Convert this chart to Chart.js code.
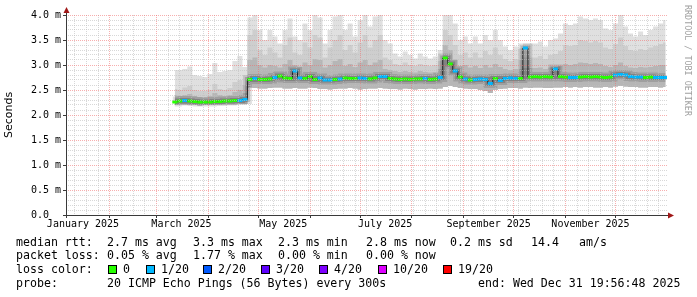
<!DOCTYPE html>
<html>
<head>
<meta charset="utf-8">
<script src="https://cdn.jsdelivr.net/npm/chart.js@4.4.1/dist/chart.umd.min.js"></script>
<style>
  body { margin: 0; background: #fff; }
  #wrap { position: relative; width: 697px; height: 297px; overflow: hidden; font-family: "DejaVu Sans Mono", monospace; }
  #chart { position: absolute; left: 0; top: 0; }
  .row { position: absolute; left: 0; width: 697px; height: 14px; line-height: 14px; font-size: 11.6px; white-space: pre; color: #000; }
  .row span { position: absolute; top: 0; }
  .row i { position: absolute; top: 3px; width: 7px; height: 7px; border: 1px solid #000; }
  #credit { position: absolute; left: 683px; top: 5px; writing-mode: vertical-rl; font-size: 8.4px; line-height: 10px; color: #a0a0a0; white-space: pre; }
</style>
</head>
<body>
<div id="wrap">
  <canvas id="chart" width="697" height="297"></canvas>
  <div id="credit">RRDTOOL / TOBI OETIKER</div>
  <div class="row" style="top:235px">
    <span style="left:16px">median rtt:</span><span style="left:107px">2.7 ms avg</span><span style="left:193px">3.3 ms max</span><span style="left:278px">2.3 ms min</span><span style="left:366px">2.8 ms now</span><span style="left:450px">0.2 ms sd</span><span style="left:531px">14.4</span><span style="left:579px">am/s</span>
  </div>
  <div class="row" style="top:248px">
    <span style="left:16px">packet loss:</span><span style="left:107px">0.05 % avg</span><span style="left:193px">1.77 % max</span><span style="left:278px">0.00 % min</span><span style="left:366px">0.00 % now</span>
  </div>
  <div class="row" id="lossRow" style="top:262px">
    <span style="left:16px">loss color:</span>
  </div>
  <div class="row" style="top:276px">
    <span style="left:16px">probe:</span><span style="left:107px">20 ICMP Echo Pings (56 Bytes) every 300s</span><span style="left:478px">end: Wed Dec 31 19:56:48 2025</span>
  </div>
</div>
<script>
// day of year 2025 (0 = Jan 1), one sample every 3 days
const days = [
  70, 73, 76, 79, 82, 85, 88, 91, 94, 97,
  100, 103, 106, 109, 112, 115, 118, 121, 124, 127,
  130, 133, 136, 139, 142, 145, 148, 151, 154, 157,
  160, 163, 166, 169, 172, 175, 178, 181, 184, 187,
  190, 193, 196, 199, 202, 205, 208, 211, 214, 217,
  220, 223, 226, 229, 232, 235, 238, 241, 244, 247,
  250, 253, 256, 259, 262, 265, 268, 271, 274, 277,
  280, 283, 286, 289, 292, 295, 298, 301, 304, 307,
  310, 313, 316, 319, 322, 325, 328, 331, 334, 337,
  340, 343, 346, 349, 352, 355, 358, 361, 364
];

// median rtt in ms
const median = [
  2.26, 2.28, 2.29, 2.28, 2.27, 2.26, 2.26, 2.26, 2.27, 2.27,
  2.28, 2.28, 2.29, 2.29, 2.31, 2.71, 2.73, 2.71, 2.71, 2.72,
  2.75, 2.78, 2.74, 2.73, 2.88, 2.74, 2.73, 2.77, 2.71, 2.74,
  2.70, 2.70, 2.71, 2.72, 2.74, 2.73, 2.73, 2.74, 2.73, 2.72,
  2.74, 2.77, 2.77, 2.73, 2.72, 2.71, 2.72, 2.71, 2.72, 2.72,
  2.73, 2.71, 2.72, 2.75, 3.14, 3.02, 2.88, 2.76, 2.72, 2.70,
  2.71, 2.72, 2.71, 2.63, 2.73, 2.69, 2.73, 2.74, 2.73, 2.73,
  3.34, 2.76, 2.77, 2.76, 2.77, 2.76, 2.92, 2.77, 2.76, 2.75,
  2.75, 2.76, 2.77, 2.76, 2.77, 2.76, 2.75, 2.76, 2.80, 2.81,
  2.80, 2.77, 2.76, 2.76, 2.75, 2.76, 2.75, 2.75, 2.75
];

// lost pings out of 20
const loss = [
  0, 0, 1, 0, 0, 0, 0, 0, 0, 0,
  0, 0, 0, 1, 1, 0, 1, 0, 0, 0,
  1, 0, 0, 0, 1, 1, 0, 0, 0, 1,
  1, 1, 0, 1, 0, 0, 0, 1, 1, 0,
  0, 1, 1, 0, 0, 0, 0, 0, 0, 0,
  1, 0, 0, 1, 0, 0, 1, 0, 1, 0,
  1, 1, 1, 1, 0, 1, 1, 1, 1, 0,
  1, 0, 0, 0, 0, 0, 1, 0, 0, 1,
  1, 0, 0, 0, 0, 0, 0, 0, 1, 1,
  1, 1, 1, 1, 0, 0, 1, 1, 1
];

// smoke: slowest ping, upper quantiles, fastest ping (ms)
const smokeMax = [
  2.90, 2.90, 2.92, 2.97, 2.80, 2.78, 2.76, 2.82, 3.04, 2.86,
  2.88, 2.90, 3.08, 3.18, 2.96, 3.95, 4.00, 3.70, 3.50, 3.70,
  3.57, 3.43, 3.70, 3.93, 3.57, 3.50, 3.83, 3.70, 4.00, 3.95,
  3.43, 3.70, 3.97, 4.00, 3.70, 3.83, 3.57, 3.90, 4.00, 3.77,
  3.97, 4.00, 3.50, 3.43, 3.23, 3.17, 3.27, 3.20, 3.13, 3.23,
  3.17, 3.13, 3.17, 3.30, 4.00, 4.00, 3.83, 3.50, 3.57, 3.43,
  3.57, 3.43, 3.60, 3.50, 3.70, 3.50, 3.37, 3.30, 3.37, 3.33,
  3.43, 3.43, 3.43, 3.47, 3.37, 3.50, 3.53, 3.63, 3.83, 3.80,
  3.83, 3.97, 3.93, 3.90, 3.93, 3.90, 3.73, 3.70, 3.83, 4.00,
  3.77, 3.63, 3.57, 3.67, 3.60, 3.70, 3.77, 3.83, 3.90
];
const smokeHi = [
  2.52, 2.50, 2.55, 2.58, 2.50, 2.48, 2.48, 2.50, 2.62, 2.52,
  2.50, 2.54, 2.66, 2.70, 2.60, 3.60, 3.70, 3.30, 3.20, 3.35,
  3.25, 3.15, 3.40, 3.55, 3.25, 3.20, 3.45, 3.35, 3.60, 3.55,
  3.15, 3.35, 3.50, 3.60, 3.30, 3.40, 3.25, 3.45, 3.60, 3.35,
  3.50, 3.60, 3.15, 3.10, 3.02, 3.00, 3.05, 3.00, 2.98, 3.02,
  3.00, 2.98, 3.00, 3.08, 3.70, 3.60, 3.40, 3.20, 3.25, 3.15,
  3.25, 3.15, 3.28, 3.20, 3.35, 3.20, 3.12, 3.08, 3.12, 3.10,
  3.15, 3.15, 3.15, 3.18, 3.12, 3.20, 3.22, 3.28, 3.40, 3.38,
  3.40, 3.50, 3.48, 3.45, 3.48, 3.45, 3.35, 3.32, 3.42, 3.55,
  3.38, 3.30, 3.28, 3.32, 3.30, 3.35, 3.38, 3.42, 3.45
];
const smokeMid = [
  2.40, 2.38, 2.40, 2.42, 2.38, 2.36, 2.36, 2.38, 2.44, 2.40,
  2.38, 2.40, 2.46, 2.50, 2.44, 3.10, 3.15, 3.00, 2.95, 3.00,
  2.98, 2.95, 3.02, 3.10, 3.00, 2.96, 3.05, 3.00, 3.12, 3.10,
  2.95, 3.00, 3.08, 3.12, 2.98, 3.02, 2.96, 3.05, 3.10, 3.00,
  3.05, 3.10, 2.92, 2.90, 2.88, 2.86, 2.88, 2.86, 2.85, 2.88,
  2.86, 2.85, 2.86, 2.92, 3.40, 3.30, 3.10, 2.98, 3.00, 2.95,
  2.98, 2.94, 3.00, 2.95, 3.02, 2.96, 2.92, 2.90, 2.92, 2.92,
  2.94, 2.94, 2.94, 2.95, 2.92, 2.95, 2.96, 2.98, 3.02, 3.00,
  3.02, 3.05, 3.04, 3.02, 3.04, 3.02, 2.98, 2.96, 3.00, 3.05,
  2.98, 2.95, 2.94, 2.96, 2.95, 2.96, 2.98, 3.00, 3.00
];
const smokeMin = [
  2.20, 2.21, 2.21, 2.20, 2.20, 2.19, 2.20, 2.20, 2.20, 2.20,
  2.21, 2.21, 2.21, 2.22, 2.22, 2.55, 2.54, 2.53, 2.53, 2.54,
  2.55, 2.55, 2.53, 2.53, 2.54, 2.53, 2.53, 2.55, 2.54, 2.52,
  2.52, 2.51, 2.52, 2.53, 2.53, 2.54, 2.53, 2.51, 2.52, 2.53,
  2.53, 2.54, 2.53, 2.52, 2.52, 2.51, 2.53, 2.52, 2.51, 2.52,
  2.52, 2.53, 2.52, 2.53, 2.56, 2.58, 2.56, 2.54, 2.53, 2.52,
  2.52, 2.50, 2.48, 2.44, 2.50, 2.52, 2.53, 2.54, 2.54, 2.53,
  2.55, 2.54, 2.55, 2.55, 2.54, 2.54, 2.55, 2.55, 2.56, 2.55,
  2.56, 2.55, 2.56, 2.56, 2.55, 2.55, 2.56, 2.55, 2.57, 2.58,
  2.57, 2.56, 2.56, 2.55, 2.55, 2.56, 2.56, 2.55, 2.56
];

// axis ticks
const monthStarts = [31, 59, 90, 120, 151, 181, 212, 243, 273, 304, 334];
const xLabelDays = [15, 74, 135, 196, 258, 319];
const xLabels = ["January 2025", "March 2025", "May 2025", "July 2025", "September 2025", "November 2025"];
const yLabels = ["0.0", "0.5 m", "1.0 m", "1.5 m", "2.0 m", "2.5 m", "3.0 m", "3.5 m", "4.0 m"];

// loss legend
const lossLevels = [0, 1, 2, 3, 4, 10, 19];
const lossLabels = ["0", "1/20", "2/20", "3/20", "4/20", "10/20", "19/20"];
const lossColors = ["#26ff00", "#00b8ff", "#0059ff", "#5e00ff", "#7e00ff", "#dd00ff", "#ff0000"];
const lossBoxX = [108, 146, 203, 261, 319, 378, 443];

const lossRow = document.getElementById("lossRow");
lossLevels.forEach((l, k) => {
    const box = document.createElement("i");
    box.style.left = lossBoxX[k] + "px";
    box.style.background = lossColors[k];
    lossRow.appendChild(box);
    const txt = document.createElement("span");
    txt.style.left = (lossBoxX[k] + 15) + "px";
    txt.textContent = lossLabels[k];
    lossRow.appendChild(txt);
});

const X_MIN = 4.83, X_MAX = 364.83;
const weekDays = [];
for (let d = 10; d < X_MAX; d += 7) weekDays.push(d);
const xTicks = [...new Set([...weekDays, ...monthStarts, ...xLabelDays])].sort((a, b) => a - b);

const MAJOR = "rgba(240, 110, 110, 0.55)";
const MINOR = "rgba(190, 190, 190, 0.6)";

const pts = arr => days.map((d, i) => ({ x: d, y: arr[i] }));
const smoke = (arr, color, order) => ({
    data: pts(arr),
    borderColor: "transparent",
    borderWidth: 0,
    backgroundColor: color,
    fill: { target: 0 },
    stepped: "middle",
    pointRadius: 0,
    order: order,
});

// rrdtool style arrows at the axis ends
const axisArrows = {
    id: "axisArrows",
    afterDraw(chart) {
        const { ctx, chartArea: a } = chart;
        ctx.save();
        ctx.strokeStyle = "#3a3a3a";
        ctx.lineWidth = 1;
        ctx.beginPath();
        ctx.moveTo(a.left + 0.5, a.bottom + 3);
        ctx.lineTo(a.left + 0.5, a.top - 5);
        ctx.moveTo(a.left - 3, a.bottom + 0.5);
        ctx.lineTo(a.right + 3, a.bottom + 0.5);
        ctx.stroke();
        ctx.fillStyle = "#a01818";
        ctx.beginPath();
        ctx.moveTo(a.left + 0.5, a.top - 8);
        ctx.lineTo(a.left - 2.5, a.top - 2);
        ctx.lineTo(a.left + 3.5, a.top - 2);
        ctx.closePath();
        ctx.fill();
        ctx.beginPath();
        ctx.moveTo(a.right + 7, a.bottom + 0.5);
        ctx.lineTo(a.right + 1, a.bottom - 2.5);
        ctx.lineTo(a.right + 1, a.bottom + 3.5);
        ctx.closePath();
        ctx.fill();
        ctx.restore();
    },
};

const ctx = document.getElementById("chart").getContext("2d");
new Chart(ctx, {
    type: "line",
    data: {
        datasets: [
            { data: pts(smokeMin), borderColor: "transparent", borderWidth: 0, pointRadius: 0, fill: false, stepped: "middle", order: 9 },
            smoke(smokeMax, "#e0e0e0", 8),
            smoke(smokeHi, "#cecece", 7),
            smoke(smokeMid, "#b6b6b6", 6),
            { data: pts(median), borderColor: "rgba(0,0,0,0.12)", borderWidth: 9, stepped: "middle", pointRadius: 0, fill: false, order: 5 },
            { data: pts(median), borderColor: "rgba(0,0,0,0.18)", borderWidth: 5, stepped: "middle", pointRadius: 0, fill: false, order: 4 },
            {
                data: pts(median),
                borderColor: "#202020",
                borderWidth: 1,
                stepped: "middle",
                fill: false,
                pointStyle: "line",
                pointRadius: 2.5,
                pointBorderWidth: 3,
                pointBorderColor: loss.map(l => lossColors[lossLevels.indexOf(l)]),
                order: 1,
            },
        ],
    },
    options: {
        responsive: false,
        animation: false,
        events: [],
        layout: { padding: { left: 0, right: 30, top: 15, bottom: 62 } },
        plugins: { legend: { display: false }, tooltip: { enabled: false } },
        scales: {
            x: {
                type: "linear",
                min: X_MIN,
                max: X_MAX,
                afterBuildTicks: s => { s.ticks = xTicks.map(v => ({ value: v })); },
                afterFit: s => { s.height = 20; },
                border: { display: false, dash: [1, 1] },
                grid: {
                    z: 1,
                    tickLength: 3,
                    color: c => {
                        const v = c.tick ? c.tick.value : null;
                        if (monthStarts.includes(v)) return MAJOR;
                        if (weekDays.includes(v)) return MINOR;
                        return "transparent";
                    },
                    tickColor: c => (c.tick && monthStarts.includes(c.tick.value)) ? "#3a3a3a" : "transparent",
                },
                ticks: {
                    autoSkip: false,
                    maxRotation: 0,
                    minRotation: 0,
                    padding: 0,
                    color: "#000",
                    font: { family: "DejaVu Sans Mono", size: 10 },
                    callback: v => {
                        const k = xLabelDays.indexOf(v);
                        return k >= 0 ? xLabels[k] : "";
                    },
                },
            },
            y: {
                min: 0,
                max: 4,
                afterBuildTicks: s => {
                    const t = [];
                    for (let k = 0; k <= 40; k++) t.push({ value: k / 10 });
                    s.ticks = t;
                },
                afterFit: s => { s.width = 66; },
                border: { display: false, dash: [1, 1] },
                grid: {
                    z: 1,
                    tickLength: 3,
                    color: c => {
                        const k = c.tick ? Math.round(c.tick.value * 10) : 1;
                        return k % 5 === 0 ? MAJOR : MINOR;
                    },
                    tickColor: c => {
                        const k = c.tick ? Math.round(c.tick.value * 10) : 1;
                        return k % 5 === 0 ? "#3a3a3a" : "transparent";
                    },
                },
                ticks: {
                    autoSkip: false,
                    padding: 2,
                    color: "#000",
                    font: { family: "DejaVu Sans Mono", size: 10 },
                    callback: v => {
                        const k = Math.round(v * 10);
                        return k % 5 === 0 ? yLabels[k / 5].padEnd(5) : "";
                    },
                },
                title: {
                    display: true,
                    text: "Seconds",
                    color: "#000",
                    font: { family: "DejaVu Sans", size: 11 },
                    padding: { top: 3, bottom: 0 },
                },
            },
        },
    },
    plugins: [axisArrows],
});
</script>
</body>
</html>
